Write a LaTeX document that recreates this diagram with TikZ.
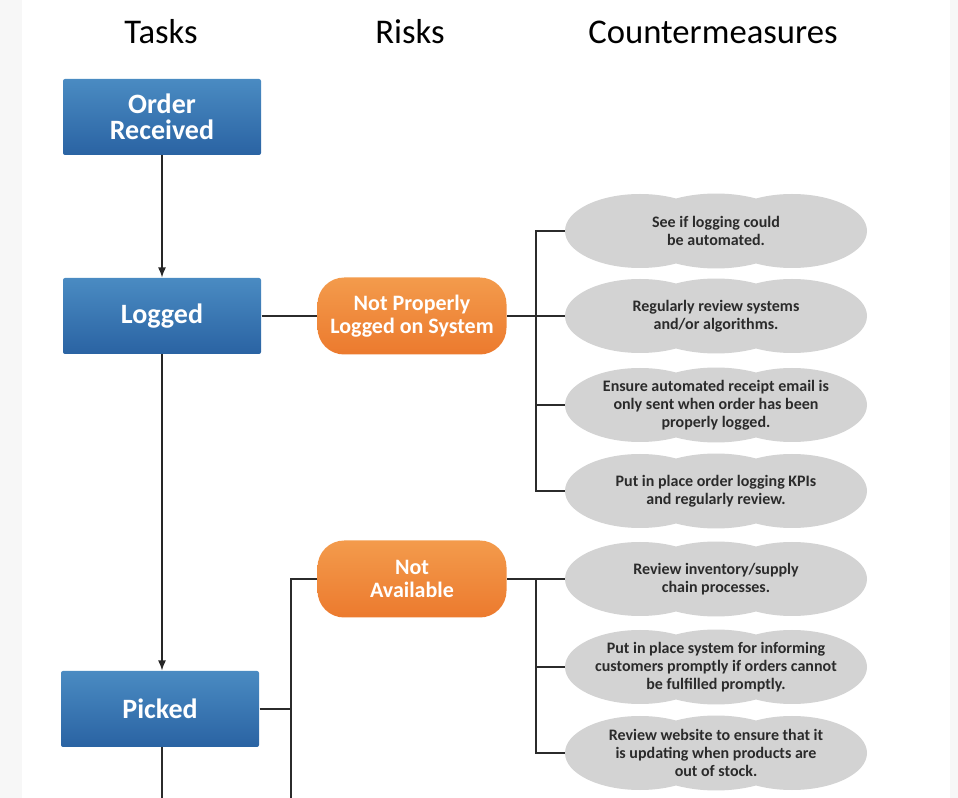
\documentclass[tikz,border=0pt]{standalone}
\usepackage{fontspec}
\setmainfont{Carlito}
\usetikzlibrary{arrows.meta}

\definecolor{taskTop}{HTML}{4A8BC2}
\definecolor{taskBot}{HTML}{2A63A3}
\definecolor{riskTop}{HTML}{F39B4C}
\definecolor{riskBot}{HTML}{EC7A2E}
\definecolor{cmGray}{HTML}{D3D3D3}
\definecolor{lineGray}{HTML}{2B2B2B}
\definecolor{edgeGray}{HTML}{F7F7F7}

\tikzset{every picture/.style={line width=0.75pt},
  task/.style={rectangle, rounded corners=1.5pt, top color=taskTop, bottom color=taskBot, minimum width=148.5pt, minimum height=57pt, text=white, font=\bfseries\fontsize{21}{19.5}\selectfont, align=center, inner sep=0pt},
  risk/.style={rectangle, rounded corners=20pt, top color=riskTop, bottom color=riskBot, minimum width=141.75pt, minimum height=57.75pt, text=white, font=\bfseries\fontsize{16.5}{17}\selectfont, align=center, inner sep=0pt},
  measure/.style={rectangle, minimum width=226.5pt, minimum height=55pt, text=lineGray, font=\bfseries\fontsize{12}{13.5}\selectfont, align=center, inner sep=0pt},
  heading/.style={font=\fontsize{26}{30}\selectfont, inner sep=0pt},
  link/.style={draw=lineGray, line width=1.5pt},
  flow/.style={draw=black!85, line width=1.1pt, -{Latex[length=7.5pt,width=6pt]}}
}

\begin{document}
\begin{tikzpicture}[x=0.75pt,y=0.75pt,yscale=-1,xscale=1]
	\useasboundingbox (0,0) rectangle (958,798);
	%Shape: Page edges
	\fill[edgeGray] (0,0) rectangle (22,798);
	\fill[edgeGray] (950,0) rectangle (958,798);

	% Column headings
	\node[heading] (hTasks) at (161,32) {Tasks};
	\node[heading] (hRisks) at (410,32) {Risks};
	\node[heading] (hMeasures) at (713,32) {Countermeasures};

	% Tasks
	\node[task] (orr) at (162,117) {Order\\Received};
	\node[task] (lgd) at (162,316) {Logged};
	\node[task] (pck) at (160,709) {Picked};

	% Risks
	\node[risk] (rLog) at (412,316) {Not Properly\\Logged on System};
	\node[risk] (rAvl) at (412,579) {Not\\Available};

	%Shape: Cloud lobes
	\foreach \cy in {231,316,405,491,579,667,753} {
		\fill[cmGray] (640,\cy) ellipse [x radius=56.25pt, y radius=27.75pt]
			(716,\cy) ellipse [x radius=60pt, y radius=28.1pt]
			(792,\cy) ellipse [x radius=56.25pt, y radius=27.75pt];
	}

	% Countermeasures
	\node[measure] (cm1) at (716,231) {See if logging could\\be automated.};
	\node[measure] (cm2) at (716,316) {Regularly review systems\\and/or algorithms.};
	\node[measure] (cm3) at (716,405) {Ensure automated receipt email is\\only sent when order has been\\properly logged.};
	\node[measure] (cm4) at (716,491) {Put in place order logging KPIs\\and regularly review.};
	\node[measure] (cm5) at (716,579) {Review inventory/supply\\chain processes.};
	\node[measure] (cm6) at (716,667) {Put in place system for informing\\customers promptly if orders cannot\\be fulfilled promptly.};
	\node[measure] (cm7) at (716,753) {Review website to ensure that it\\is updating when products are\\out of stock.};

	\coordinate (tEnd) at (162,798);
	\coordinate (rEnd) at (291,798);

	%Straight Lines: task flow
	\draw[flow] (orr) -- (lgd);
	\draw[flow] (lgd) -- (pck.north -| lgd);
	\draw[link] (pck.south -| lgd) -- (tEnd);

	%Straight Lines: tasks to risks
	\draw[link] (lgd.east) -- (rLog.west);
	\draw[link] (rAvl.west) -| (rEnd);
	\draw[link] (pck.east) -- (pck.east -| rEnd);

	%Straight Lines: risks to countermeasures
	\draw[link] (rLog.east) -- (cm2.west);
	\draw[link] (cm1.west) -- ++(-29,0) |- (cm4.west);
	\draw[link] (cm3.west) -- ++(-29,0);
	\draw[link] (rAvl.east) -- (cm5.west);
	\draw[link] (cm5.west) ++(-29,0) |- (cm7.west);
	\draw[link] (cm6.west) -- ++(-29,0);
\end{tikzpicture}
\end{document}
